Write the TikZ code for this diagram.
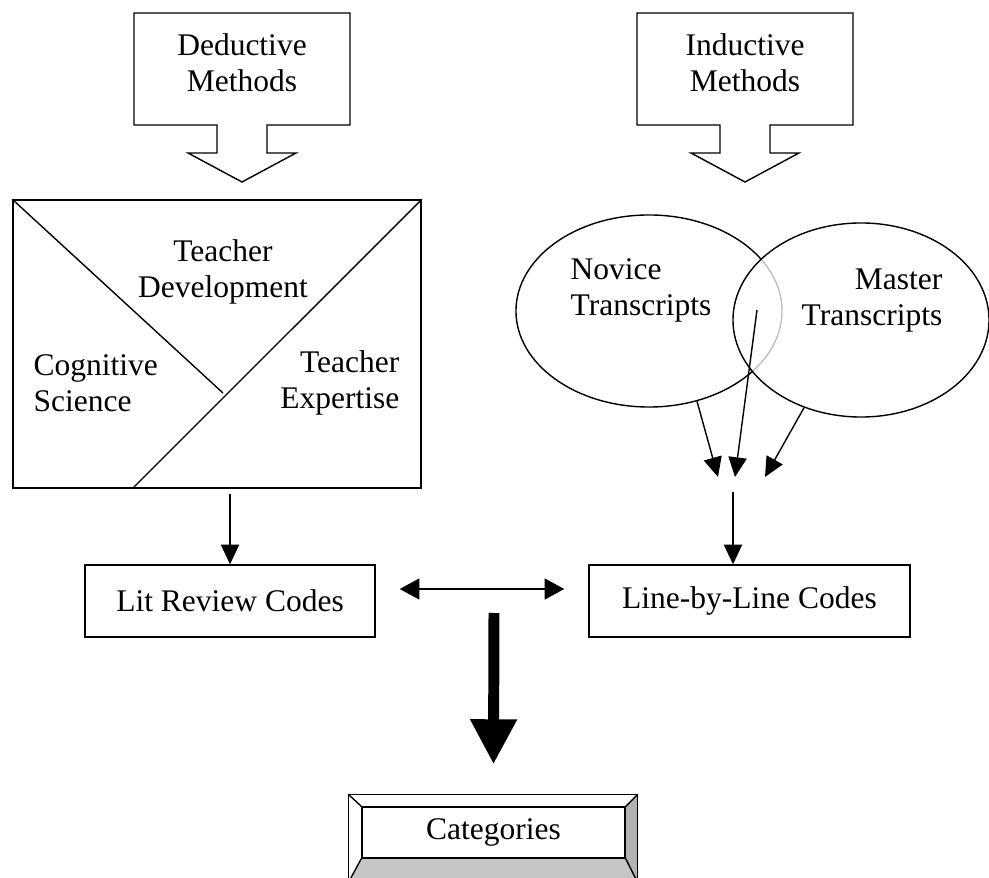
\documentclass[tikz,border=0pt]{standalone}
\usepackage{fontspec}
\setmainfont{Liberation Serif}
\usetikzlibrary{arrows.meta,calc,shapes.geometric}

\newcommand{\methodsarrow}[3]{%
  \draw (#2-108,13) -- (#2+108,13) -- (#2+108,125) -- (#2+25,125) -- (#2+25,153)
    -- (#2+54,153) -- (#2,182) -- (#2-54,153) -- (#2-25,153) -- (#2-25,125)
    -- (#2-108,125) -- cycle;
  \node[txt] (#1) at (#2,63) {#3};
}

\tikzset{
  txt/.style={font=\fontsize{22.4}{25.6}\selectfont, align=center, inner sep=0pt},
  codebox/.style={draw, txt, minimum height=1.8cm},
  arr/.style={-{Triangle[length=14pt,width=13pt]}},
  bigarr/.style={line width=7.8pt, -{Triangle[length=1.125cm,width=1.1cm]}},
}

\begin{document}
\begin{tikzpicture}[x=0.025cm, y=-0.025cm, line width=1pt]
  \useasboundingbox (0,0) rectangle (989,878);
  \methodsarrow{deduct}{242}{Deductive\\Methods}
  \methodsarrow{induct}{745}{Inductive\\Methods}

  % literature
  \node[draw, minimum width=10.2cm, minimum height=7.2cm] (lrect) at (217,344) {};
  \coordinate (meet) at (223,393);
  \coordinate (cut) at (133,488);
  \draw (lrect.north west) -- (meet);
  \draw (lrect.north east) -- (cut);
  \node[txt] (tdev) at (223,272) {Teacher\\Development};
  \node[txt, align=left, anchor=west] (cogsci) at (33,383) {Cognitive\\Science};
  \node[txt, align=right, anchor=east] (texp) at (400,383) {Teacher\\Expertise};

  % transcripts
  \node[draw, ellipse, inner sep=0pt, minimum width=6.65cm, minimum height=4.8cm] (novice) at (649,311) {};
  \node[draw, ellipse, inner sep=0pt, fill=white, fill opacity=0.75, minimum width=6.4cm, minimum height=4.85cm] (master) at (861,320) {};
  \node[txt, align=left, anchor=west] (novtxt) at (570,290) {Novice\\Transcripts};
  \node[txt, align=right, anchor=east] (mastxt) at (943,301) {Master\\Transcripts};
  \coordinate (inner) at (757,310);
  \coordinate (tipa) at (718,477);
  \coordinate (tipb) at (735,477);
  \coordinate (tipc) at (765,477);
  \coordinate (merge) at (733,492);
  \draw[arr] (novice.-62) -- (tipa);
  \draw[arr] (inner) -- (tipb);
  \draw[arr] (master.237) -- (tipc);

  % codes
  \node[codebox, minimum width=7.25cm] (lit) at (230,601) {Lit Review Codes};
  \node[codebox, minimum width=8.025cm] (line) at (749.5,601) {Line-by-Line Codes};
  \draw[arr, shorten <=0.125cm] (lrect.south -| lit.north) -- (lit.north);
  \draw[arr] (merge) -- (merge |- line.north);
  \draw[{Triangle[length=14pt,width=15pt]}-{Triangle[length=14pt,width=15pt]}]
    ($(lit.east)+(24,-12)$) -- ($(line.west)+(-24,-12)$);

  % categories
  \node[draw, txt, minimum width=6.575cm, minimum height=1.275cm] (cat) at (493.5,832.5) {Categories};
  \coordinate (onw) at ($(cat.north west)+(-13,-12)$);
  \coordinate (one) at ($(cat.north east)+(12,-12)$);
  \coordinate (osw) at ($(cat.south west)+(-13,24)$);
  \coordinate (ose) at ($(cat.south east)+(12,24)$);
  \fill[gray!45] (osw) -- (cat.south west) -- (cat.south east) -- (ose) -- cycle;
  \fill[gray!60] (one) -- (cat.north east) -- (cat.south east) -- (ose) -- cycle;
  \draw (onw) -- (one) -- (ose) -- (osw) -- cycle;
  \draw (cat.south west) rectangle (cat.north east);
  \draw (onw) -- (cat.north west) (one) -- (cat.north east)
    (osw) -- (cat.south west) (ose) -- (cat.south east);
  \coordinate (bigtop) at (494,613);
  \draw[bigarr] (bigtop) -- ($(cat.north)+(0,-42)$);
\end{tikzpicture}
\end{document}
